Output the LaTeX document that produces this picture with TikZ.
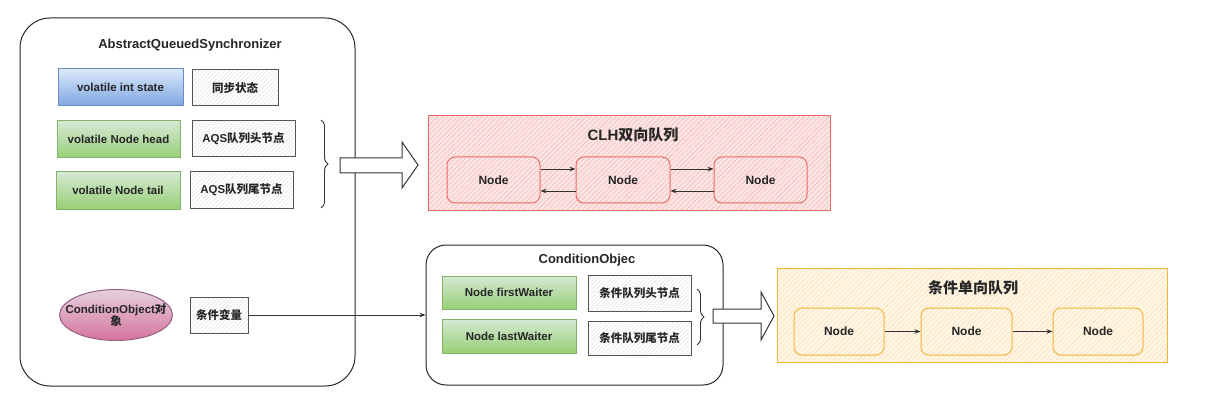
\documentclass[tikz,border=0pt]{standalone}
\usepackage{fontspec}
\setmainfont{Liberation Sans}
\newfontfamily\cjk{Noto Sans CJK SC}
\usetikzlibrary{patterns.meta,decorations.pathreplacing,arrows.meta,shapes.geometric}
\newcommand{\zh}[1]{{\cjk\bfseries #1}}
\definecolor{bluetop}{HTML}{DAE8FC}
\definecolor{bluebot}{HTML}{7EA6E0}
\definecolor{blueline}{HTML}{6C8EBF}
\definecolor{greentop}{HTML}{D5E8D4}
\definecolor{greenbot}{HTML}{97D077}
\definecolor{greenline}{HTML}{82B366}
\definecolor{pinktop}{HTML}{E6D0DE}
\definecolor{pinkbot}{HTML}{D5739D}
\definecolor{pinkline}{HTML}{996185}
\definecolor{redline}{HTML}{EA6B66}
\definecolor{redfill}{HTML}{FBE6E5}
\definecolor{redhatch}{HTML}{F2AFAC}
\definecolor{orline}{HTML}{F2B63C}
\definecolor{orfill}{HTML}{FFF6E6}
\definecolor{orhatch}{HTML}{F9DCA8}
\definecolor{grayline}{HTML}{555555}
\tikzset{
  lbl/.style={font=\bfseries\fontsize{11.5}{12.5}\selectfont, text=black!85, align=center, inner sep=1pt},
  bluebox/.style={lbl, rectangle, draw=blueline, line width=1pt, top color=bluetop, bottom color=bluebot},
  greenbox/.style={lbl, rectangle, draw=greenline, line width=1pt, top color=greentop, bottom color=greenbot},
  hatchbox/.style={lbl, rectangle, draw=grayline, line width=1pt,
    pattern={Lines[angle=45,distance=3pt,line width=0.35pt]}, pattern color=black!15},
  container/.style={draw=black!85, line width=1pt, rounded corners=#1, inner sep=0pt},
  title/.style={font=\bfseries\fontsize{13}{14}\selectfont, text=black!85},
  bigtitle/.style={font=\bfseries\fontsize{15}{16}\selectfont, text=black!85},
  rednode/.style={lbl, font=\bfseries\fontsize{12}{13}\selectfont, rectangle, rounded corners=8pt, draw=redline, line width=1pt,
    preaction={fill=redfill}, pattern={Lines[angle=45,distance=3.5pt,line width=0.4pt]}, pattern color=redhatch},
  ornode/.style={lbl, font=\bfseries\fontsize{12}{13}\selectfont, rectangle, rounded corners=8pt, draw=orline, line width=1pt,
    preaction={fill=orfill}, pattern={Lines[angle=45,distance=3.5pt,line width=0.4pt]}, pattern color=orhatch},
  link/.style={draw=black!80, line width=0.8pt, -{Stealth[length=6pt,width=4.5pt]}},
  bigarrow/.style={draw=black!80, line width=1pt, fill=white},
  bracestyle/.style={draw=black!80, line width=0.9pt, decorate, decoration={brace, amplitude=7pt}}
}
\begin{document}
\begin{tikzpicture}[x=1pt,y=-1pt]
\useasboundingbox (0,0) rectangle (1228,406);

% AQS container
\node[container=30pt, minimum width=335pt, minimum height=368pt] (aqs) at (187.5,202) {};
\node[title] (aqst) at (190,45) {AbstractQueuedSynchronizer};
\node[bluebox, minimum width=125pt, minimum height=37pt] (state) at (120.5,87.5) {volatile int state};
\node[hatchbox, minimum width=86pt, minimum height=36pt] (statel) at (235,88) {\zh{同步状态}};
\node[greenbox, minimum width=123pt, minimum height=37pt] (head) at (118.5,139.5) {volatile Node head};
\node[hatchbox, minimum width=103pt, minimum height=36pt] (headl) at (243.5,139) {AQS\zh{队列头节点}};
\node[greenbox, minimum width=124pt, minimum height=37pt] (tail) at (118,190.5) {volatile Node tail};
\node[hatchbox, minimum width=103pt, minimum height=36pt] (taill) at (241.5,190) {AQS\zh{队列尾节点}};
\node[ellipse, draw=pinkline, line width=1pt, top color=pinktop, bottom color=pinkbot,
  minimum width=113pt, minimum height=51pt, inner sep=0pt] (cobj) at (116,315) {};
\node[lbl] (cobjt) at (cobj.center) {ConditionObject\zh{对}\\[-1pt]\zh{象}};
\node[hatchbox, minimum width=58pt, minimum height=36pt] (cvar) at (219,315) {\zh{条件变量}};

% brace + big arrow 1
\coordinate (b1s) at (321,120);
\coordinate (b1e) at (321,208);
\draw[bracestyle] (b1s) -- (b1e);
\draw[bigarrow] (340,158) -- (402,158) -- (402,142) -- (418,165) -- (402,188) -- (402,173) -- (340,173) -- cycle;

% CLH box
\node[draw=redline, line width=1pt, preaction={fill=redfill},
  pattern={Lines[angle=45,distance=3.5pt,line width=0.4pt]}, pattern color=redhatch,
  minimum width=402pt, minimum height=94pt, inner sep=0pt] (clh) at (629,163) {};
\node[bigtitle] (clht) at (633,135) {CLH\zh{双向队列}};
\node[rednode, minimum width=93pt, minimum height=46pt] (c1) at (493.5,180) {Node};
\node[rednode, minimum width=94pt, minimum height=46pt] (c2) at (623,180) {Node};
\node[rednode, minimum width=93pt, minimum height=46pt] (c3) at (760.5,180) {Node};
\draw[link] ([yshift=11pt]c1.east) -- ([yshift=11pt]c2.west);
\draw[link] ([yshift=-11pt]c2.west) -- ([yshift=-11pt]c1.east);
\draw[link] ([yshift=11pt]c2.east) -- ([yshift=11pt]c3.west);
\draw[link] ([yshift=-11pt]c3.west) -- ([yshift=-11pt]c2.east);

% ConditionObjec box
\node[container=20pt, minimum width=297pt, minimum height=140pt] (co) at (574.5,315) {};
\node[title] (cot) at (587,260) {ConditionObjec};
\node[greenbox, minimum width=134pt, minimum height=33pt] (fw) at (509,292.5) {Node firstWaiter};
\node[greenbox, minimum width=134pt, minimum height=34pt] (lw) at (509,336) {Node lastWaiter};
\node[hatchbox, minimum width=103pt, minimum height=36pt] (fwl) at (639.5,293) {\zh{条件队列头节点}};
\node[hatchbox, minimum width=103pt, minimum height=34pt] (lwl) at (639.5,338) {\zh{条件队列尾节点}};

\draw[link] (cvar.east) -- (cvar.east -| co.west);

% brace + big arrow 2
\coordinate (b2s) at (697,289);
\coordinate (b2e) at (697,345);
\draw[bracestyle] (b2s) -- (b2e);
\draw[bigarrow] (713,309) -- (761,309) -- (761,292) -- (774,316) -- (761,340) -- (761,323) -- (713,323) -- cycle;

% orange box
\node[draw=orline, line width=1pt, preaction={fill=orfill},
  pattern={Lines[angle=45,distance=3.5pt,line width=0.4pt]}, pattern color=orhatch,
  minimum width=390pt, minimum height=94pt, inner sep=0pt] (cq) at (972,315) {};
\node[bigtitle] (cqt) at (973,288) {\zh{条件单向队列}};
\node[ornode, minimum width=90pt, minimum height=47pt] (o1) at (839,331.5) {Node};
\node[ornode, minimum width=91pt, minimum height=47pt] (o2) at (966.5,331.5) {Node};
\node[ornode, minimum width=90pt, minimum height=47pt] (o3) at (1098,331.5) {Node};
\draw[link] (o1) -- (o2);
\draw[link] (o2) -- (o3);
\end{tikzpicture}
\end{document}
